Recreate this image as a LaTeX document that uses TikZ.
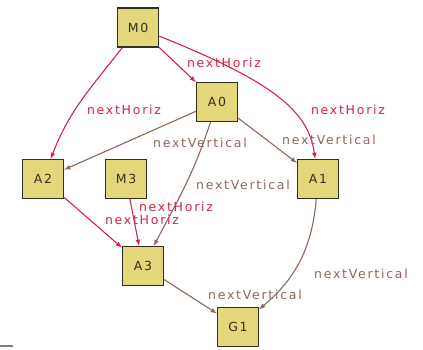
\documentclass[tikz,border=0pt]{standalone}
\usepackage{fontspec}
\setmainfont{DejaVu Sans}
\newfontfamily\edgefont[LetterSpace=14]{DejaVu Sans}
\usepackage{tikz}

\definecolor{boxfill}{RGB}{228,214,122}
\definecolor{boxline}{RGB}{50,48,36}
\definecolor{horizred}{RGB}{214,34,72}
\definecolor{vertbrown}{RGB}{140,104,88}

\tikzset{
  state/.style={draw=boxline, line width=1.3pt, fill=boxfill,
    minimum width=41pt, minimum height=39pt, inner sep=0pt,
    font=\edgefont\fontsize{12.5}{14}\selectfont, text=boxline},
  horiz/.style={draw=horizred, line width=1.1pt, -latex},
  vert/.style={draw=vertbrown, line width=1.1pt, -latex},
  hlabel/.style={text=horizred, inner sep=0pt, font=\edgefont\fontsize{12.5}{14}\selectfont},
  vlabel/.style={text=vertbrown, inner sep=0pt, font=\edgefont\fontsize{12.5}{14}\selectfont}
}

\begin{document}
\begin{tikzpicture}[x=1pt,y=1pt]
        \useasboundingbox (0,0) rectangle (423,349);

        % ---- states -------------------------------------
        \node[state] (M0) at (138,321.5)   {M0};
        \node[state] (A0) at (217,247)     {A0};
        \node[state] (A2) at (43,170)      {A2};
        \node[state] (M3) at (126,170)     {M3};
        \node[state] (A1) at (318,170)     {A1};
        \node[state] (A3) at (143,83)      {A3};
        \node[state] (G1) at (238,22)      {G1};

        % ---- nextHoriz edges ----------------------------
        \draw[horiz] (M0) to[out=232,in=69] (A2);
        \draw[horiz] (M0) -- (A0);
        \draw[horiz] (M0) to[out=-22,in=98,out distance=120pt,in distance=50pt] (A1);
        \draw[horiz] (A2) -- (A3);
        \draw[horiz] (M3) -- (A3);

        % ---- nextVertical edges -------------------------
        \draw[vert] (A0) -- (A2);
        \draw[vert] (A0) to[out=252,in=62] (A3);
        \draw[vert] (A0) -- (A1);
        \draw[vert] (A1) to[out=265,in=40] (G1);
        \draw[vert] (A3) -- (G1);

        % ---- edge labels --------------------------------
        \node[hlabel] (lM0A2) at (124,239) {nextHoriz};
        \node[hlabel] (lM0A0) at (224,286) {nextHoriz};
        \node[hlabel] (lM0A1) at (348,239) {nextHoriz};
        \node[hlabel] (lA2A3) at (142,129) {nextHoriz};
        \node[hlabel] (lM3A3) at (176,142) {nextHoriz};
        \node[vlabel] (lA0A2) at (200,206) {nextVertical};
        \node[vlabel] (lA0A3) at (243,164) {nextVertical};
        \node[vlabel] (lA0A1) at (329,209) {nextVertical};
        \node[vlabel] (lA1G1) at (361,75)  {nextVertical};
        \node[vlabel] (lA3G1) at (255,54)  {nextVertical};

        % ---- stray mark at the lower left ---------------
        \draw[gray, line width=1.5pt] (0,3) -- (13,3);
    \end{tikzpicture}
\end{document}
